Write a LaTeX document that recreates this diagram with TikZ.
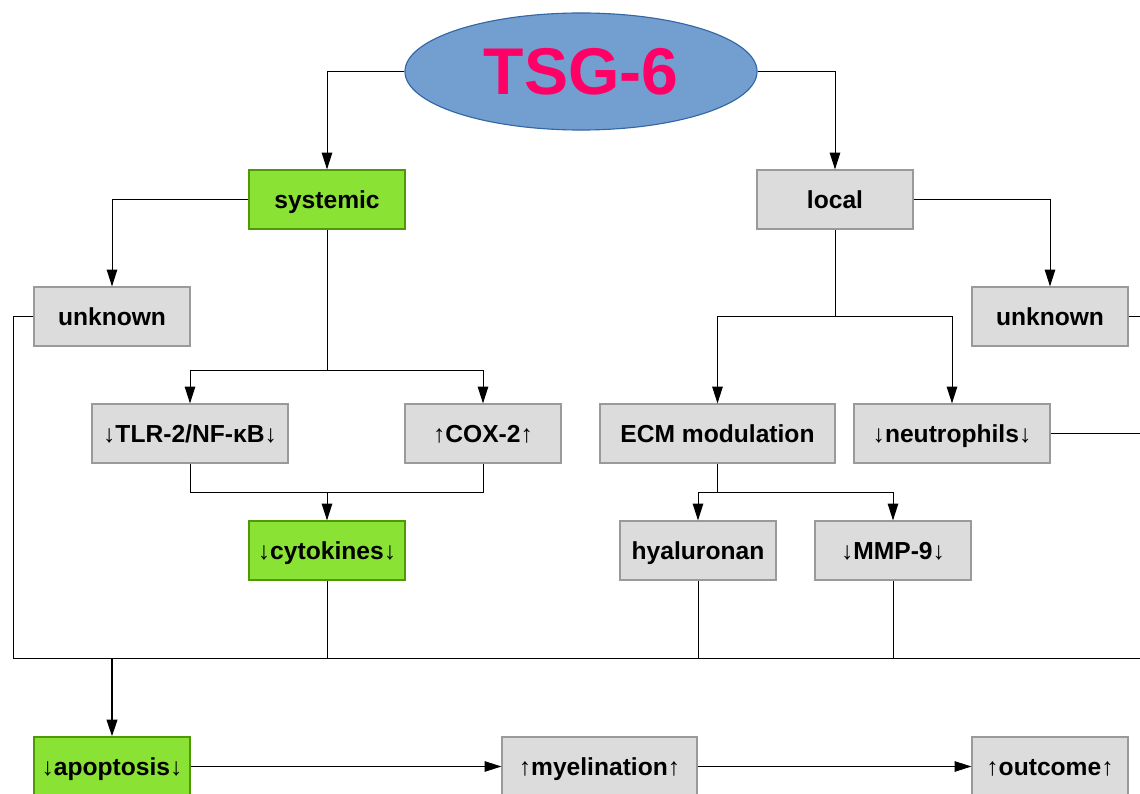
\documentclass[tikz,border=0pt]{standalone}
\usepackage{fontspec}
\setmainfont{Liberation Sans}
\usepackage{tikz}
\usetikzlibrary{positioning,arrows.meta,shapes.geometric}
\definecolor{boxgray}{HTML}{DCDCDC}
\definecolor{rimgray}{HTML}{9A9A9A}
\definecolor{leafgreen}{HTML}{8AE234}
\definecolor{rimgreen}{HTML}{4E9A06}
\definecolor{hubblue}{HTML}{729FCF}
\definecolor{rimblue}{HTML}{3465A4}
\definecolor{hubpink}{HTML}{FF0066}
\tikzset{
  flowarrow/.style={-{Triangle[length=12pt, width=7.5pt]}, line width=0.7pt},
  busline/.style={line width=0.7pt},
  grayitem/.style={draw=rimgray, fill=boxgray, line width=0.8pt, minimum width=3.9cm, minimum height=1.475cm, align=center, inner sep=0pt, text height=15pt, text depth=1.5pt},
  greenitem/.style={grayitem, draw=rimgreen, fill=leafgreen},
  hub/.style={ellipse, draw=rimblue, fill=hubblue, line width=0.8pt, minimum width=8.8cm, minimum height=2.925cm, inner sep=0pt, text=hubpink, font=\bfseries\fontsize{47}{50}\selectfont}
}

\begin{document}
\begin{tikzpicture}[x=0.025cm, y=-0.025cm, every node/.style={font=\bfseries\fontsize{17.5}{20}\selectfont}]
      \useasboundingbox (0,0) rectangle (1140,794);
      \clip (0,0) rectangle (1140,794);
      % top
      \node[hub] (tsg) at (581,71.5) {TSG-6};
      \node[greenitem] (sys) at (327,199.5) {systemic};
      \node[grayitem] (loc) at (835,199.5) {local};
      \node[grayitem] (unkL) at (112,316.5) {unknown};
      \node[grayitem] (unkR) at (1050,316.5) {unknown};
      % middle
      \node[grayitem, minimum width=4.9cm] (tlr) at (190,433.5) {↓TLR-2/NF-κB↓};
      \node[grayitem] (cox) at (483,433.5) {↑COX-2↑};
      \node[grayitem, minimum width=5.875cm] (ecm) at (717.5,433.5) {ECM modulation};
      \node[grayitem, minimum width=4.9cm] (neu) at (952,433.5) {↓neutrophils↓};
      \node[greenitem] (cyt) at (327,550.5) {↓cytokines↓};
      \node[grayitem] (hya) at (698,550.5) {hyaluronan};
      \node[grayitem] (mmp) at (893,550.5) {↓MMP-9↓};
      % bottom
      \node[greenitem] (apo) at (112,766.5) {↓apoptosis↓};
      \node[grayitem, minimum width=4.875cm] (mye) at (599.5,766.5) {↑myelination↑};
      \node[grayitem] (out) at (1050,766.5) {↑outcome↑};

      \coordinate (sysfork) at (327,370);
      \coordinate (locfork) at (835,316);
      \coordinate (cytjoin) at (327,492);
      \coordinate (ecmfork) at (717.5,492);
      \coordinate (busL) at (13,658);
      \coordinate (busR) at (1150,658);
      \coordinate (busA) at (112,658);

      \draw[flowarrow] (tsg.west) -| (sys.north);
      \draw[flowarrow] (tsg.east) -| (loc.north);
      \draw[flowarrow] (sys.west) -| (unkL.north);
      \draw[flowarrow] (loc.east) -| (unkR.north);
      \draw[busline] (sys.south) -- (sysfork);
      \draw[flowarrow] (sysfork) -| (tlr.north);
      \draw[flowarrow] (sysfork) -| (cox.north);
      \draw[busline] (loc.south) -- (locfork);
      \draw[flowarrow] (locfork) -| (ecm.north);
      \draw[flowarrow] (locfork) -| (neu.north);
      \draw[busline] (tlr.south) |- (cytjoin);
      \draw[busline] (cox.south) |- (cytjoin);
      \draw[flowarrow] (cytjoin) -- (cyt.north);
      \draw[busline] (ecm.south) -- (ecmfork);
      \draw[flowarrow] (ecmfork) -| (hya.north);
      \draw[flowarrow] (ecmfork) -| (mmp.north);
      % collecting line
      \draw[busline] (unkL.west) -| (busL) -- (busR);
      \draw[busline] (cyt.south) -- (cyt.south |- busL);
      \draw[busline] (hya.south) -- (hya.south |- busL);
      \draw[busline] (mmp.south) -- (mmp.south |- busL);
      \draw[busline] (unkR.east) -- (unkR.east -| busR);
      \draw[busline] (neu.east) -- (neu.east -| busR);
      \draw[flowarrow, line width=1.5pt] (busA) -- (apo.north);
      \draw[flowarrow] (apo) -- (mye);
      \draw[flowarrow] (mye) -- (out);
    \end{tikzpicture}
\end{document}
